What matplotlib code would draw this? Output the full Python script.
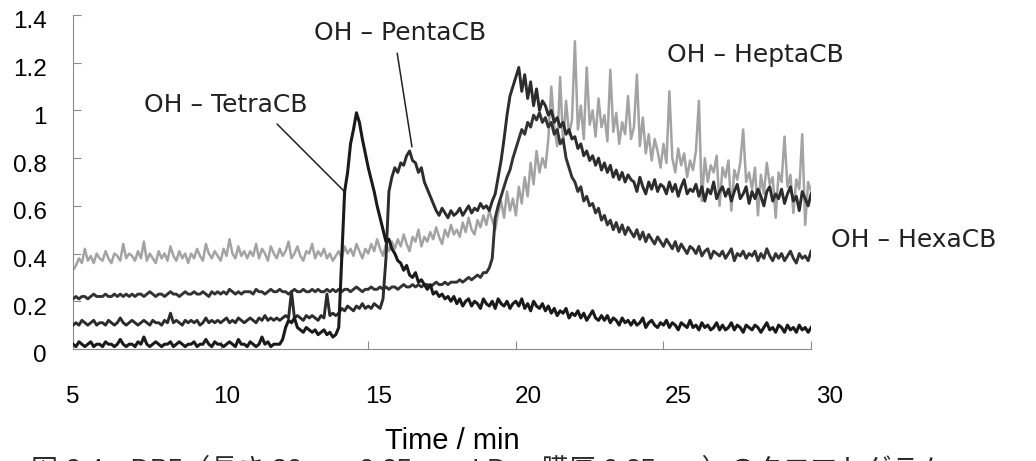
import numpy as np
import matplotlib
matplotlib.use("Agg")
import matplotlib.pyplot as plt
from matplotlib.transforms import ScaledTranslation

# =========================================================
# DATA (0.1 min steps)
# =========================================================

t_start, t_end, t_step = 5.0, 30.0, 0.1

tetra = [
    0.02, 0.01, 0.03, 0.02, 0.01, 0.02, 0.03, 0.01, 0.02, 0.02,   # 5
    0.01, 0.03, 0.02, 0.02, 0.01, 0.02, 0.04, 0.02, 0.01, 0.02,   # 6
    0.02, 0.01, 0.03, 0.02, 0.05, 0.02, 0.01, 0.02, 0.03, 0.02,   # 7
    0.01, 0.02, 0.02, 0.03, 0.01, 0.02, 0.03, 0.02, 0.01, 0.02,   # 8
    0.02, 0.03, 0.01, 0.02, 0.02, 0.04, 0.02, 0.01, 0.03, 0.02,   # 9
    0.02, 0.01, 0.02, 0.03, 0.02, 0.01, 0.04, 0.02, 0.02, 0.01,   # 10
    0.03, 0.02, 0.01, 0.02, 0.05, 0.02, 0.03, 0.01, 0.02, 0.02,   # 11
    0.02, 0.04, 0.09, 0.12, 0.11, 0.13, 0.09, 0.08, 0.07, 0.09,   # 12
    0.08, 0.07, 0.08, 0.06, 0.07, 0.08, 0.06, 0.07, 0.05, 0.06,   # 13
    0.09, 0.38, 0.66, 0.74, 0.86, 0.92, 0.99, 0.95, 0.88, 0.82,   # 14
    0.76, 0.71, 0.66, 0.60, 0.55, 0.50, 0.45, 0.46, 0.42, 0.40,   # 15
    0.37, 0.36, 0.33, 0.35, 0.31, 0.30, 0.32, 0.28, 0.29, 0.27,   # 16
    0.25, 0.27, 0.23, 0.24, 0.22, 0.23, 0.21, 0.22, 0.20, 0.22,   # 17
    0.19, 0.21, 0.18, 0.20, 0.21, 0.18, 0.20, 0.19, 0.17, 0.21,   # 18
    0.19, 0.18, 0.20, 0.17, 0.21, 0.19, 0.18, 0.20, 0.17, 0.19,   # 19
    0.20, 0.18, 0.21, 0.17, 0.19, 0.16, 0.20, 0.18, 0.17, 0.19,   # 20
    0.16, 0.18, 0.15, 0.17, 0.14, 0.16, 0.15, 0.17, 0.13, 0.15,   # 21
    0.14, 0.16, 0.13, 0.15, 0.12, 0.14, 0.16, 0.13, 0.12, 0.14,   # 22
    0.12, 0.14, 0.11, 0.13, 0.12, 0.10, 0.13, 0.11, 0.12, 0.10,   # 23
    0.12, 0.10, 0.11, 0.13, 0.09, 0.11, 0.12, 0.10, 0.09, 0.11,   # 24
    0.10, 0.12, 0.09, 0.11, 0.10, 0.08, 0.11, 0.10, 0.09, 0.12,   # 25
    0.09, 0.10, 0.08, 0.11, 0.09, 0.10, 0.08, 0.09, 0.11, 0.08,   # 26
    0.10, 0.08, 0.09, 0.11, 0.08, 0.10, 0.09, 0.07, 0.10, 0.09,   # 27
    0.08, 0.10, 0.09, 0.07, 0.09, 0.11, 0.08, 0.09, 0.07, 0.10,   # 28
    0.09, 0.07, 0.10, 0.08, 0.09, 0.07, 0.10, 0.08, 0.09, 0.07,   # 29
    0.09,
]

penta = [
    0.10, 0.11, 0.10, 0.12, 0.11, 0.10, 0.11, 0.12, 0.10, 0.11,   # 5
    0.11, 0.10, 0.12, 0.11, 0.10, 0.11, 0.13, 0.11, 0.10, 0.11,   # 6
    0.12, 0.11, 0.10, 0.11, 0.12, 0.11, 0.10, 0.12, 0.11, 0.11,   # 7
    0.10, 0.12, 0.11, 0.15, 0.11, 0.12, 0.11, 0.10, 0.12, 0.11,   # 8
    0.12, 0.11, 0.12, 0.10, 0.11, 0.13, 0.11, 0.12, 0.11, 0.12,   # 9
    0.11, 0.12, 0.13, 0.11, 0.12, 0.11, 0.13, 0.12, 0.11, 0.12,   # 10
    0.13, 0.12, 0.11, 0.13, 0.12, 0.14, 0.12, 0.13, 0.12, 0.13,   # 11
    0.12, 0.13, 0.14, 0.13, 0.24, 0.13, 0.14, 0.13, 0.12, 0.14,   # 12
    0.13, 0.14, 0.13, 0.12, 0.14, 0.13, 0.23, 0.14, 0.15, 0.14,   # 13
    0.15, 0.17, 0.16, 0.18, 0.17, 0.16, 0.18, 0.17, 0.19, 0.17,   # 14
    0.18, 0.17, 0.19, 0.18, 0.17, 0.21, 0.38, 0.66, 0.72, 0.76,   # 15
    0.74, 0.78, 0.77, 0.81, 0.83, 0.79, 0.78, 0.74, 0.76, 0.70,   # 16
    0.67, 0.64, 0.61, 0.58, 0.56, 0.59, 0.57, 0.55, 0.58, 0.56,   # 17
    0.57, 0.59, 0.56, 0.58, 0.60, 0.57, 0.59, 0.58, 0.61, 0.59,   # 18
    0.60, 0.58, 0.62, 0.65, 0.72, 0.79, 0.88, 0.98, 1.06, 1.10,   # 19
    1.14, 1.18, 1.08, 1.15, 1.05, 1.12, 1.02, 1.09, 1.00, 1.04,   # 20
    1.02, 0.98, 1.00, 0.95, 0.97, 0.93, 0.95, 0.90, 0.92, 0.88,   # 21
    0.89, 0.84, 0.86, 0.81, 0.83, 0.79, 0.81, 0.77, 0.80, 0.75,   # 22
    0.78, 0.74, 0.77, 0.72, 0.75, 0.71, 0.74, 0.70, 0.73, 0.71,   # 23
    0.70, 0.66, 0.72, 0.68, 0.65, 0.70, 0.67, 0.71, 0.66, 0.69,   # 24
    0.68, 0.65, 0.70, 0.66, 0.69, 0.64, 0.68, 0.71, 0.65, 0.67,   # 25
    0.66, 0.69, 0.64, 0.68, 0.62, 0.67, 0.65, 0.70, 0.63, 0.66,   # 26
    0.68, 0.64, 0.67, 0.62, 0.66, 0.69, 0.63, 0.65, 0.68, 0.61,   # 27
    0.66, 0.63, 0.67, 0.64, 0.60, 0.66, 0.68, 0.62, 0.65, 0.63,   # 28
    0.67, 0.61, 0.65, 0.68, 0.62, 0.64, 0.58, 0.66, 0.63, 0.60,   # 29
    0.65,
]

hexa = [
    0.21, 0.22, 0.21, 0.22, 0.22, 0.21, 0.22, 0.23, 0.22, 0.22,   # 5
    0.22, 0.23, 0.22, 0.22, 0.23, 0.22, 0.23, 0.22, 0.23, 0.22,   # 6
    0.23, 0.22, 0.23, 0.23, 0.22, 0.23, 0.24, 0.23, 0.22, 0.23,   # 7
    0.23, 0.22, 0.23, 0.24, 0.23, 0.23, 0.22, 0.23, 0.24, 0.23,   # 8
    0.23, 0.24, 0.23, 0.23, 0.24, 0.23, 0.22, 0.24, 0.23, 0.24,   # 9
    0.23, 0.24, 0.23, 0.25, 0.24, 0.23, 0.24, 0.23, 0.24, 0.24,   # 10
    0.24, 0.23, 0.25, 0.24, 0.24, 0.23, 0.24, 0.25, 0.24, 0.24,   # 11
    0.25, 0.24, 0.24, 0.23, 0.24, 0.25, 0.24, 0.24, 0.25, 0.24,   # 12
    0.24, 0.25, 0.24, 0.25, 0.24, 0.24, 0.25, 0.24, 0.25, 0.24,   # 13
    0.25, 0.24, 0.25, 0.25, 0.24, 0.25, 0.26, 0.25, 0.24, 0.25,   # 14
    0.25, 0.26, 0.25, 0.25, 0.26, 0.25, 0.26, 0.25, 0.26, 0.26,   # 15
    0.25, 0.26, 0.27, 0.26, 0.26, 0.27, 0.26, 0.27, 0.26, 0.27,   # 16
    0.27, 0.26, 0.27, 0.28, 0.27, 0.27, 0.28, 0.27, 0.28, 0.28,   # 17
    0.28, 0.29, 0.28, 0.29, 0.30, 0.29, 0.30, 0.31, 0.30, 0.32,   # 18
    0.32, 0.34, 0.38, 0.55, 0.60, 0.64, 0.68, 0.72, 0.75, 0.80,   # 19
    0.84, 0.88, 0.92, 0.90, 0.95, 0.93, 0.98, 0.96, 0.99, 0.95,   # 20
    0.97, 0.93, 0.95, 0.90, 0.92, 0.86, 0.88, 0.80, 0.76, 0.72,   # 21
    0.70, 0.66, 0.68, 0.62, 0.64, 0.60, 0.61, 0.57, 0.59, 0.54,   # 22
    0.56, 0.52, 0.54, 0.50, 0.53, 0.49, 0.52, 0.48, 0.51, 0.49,   # 23
    0.47, 0.50, 0.46, 0.49, 0.45, 0.48, 0.46, 0.44, 0.47, 0.45,   # 24
    0.43, 0.46, 0.44, 0.42, 0.45, 0.41, 0.44, 0.42, 0.40, 0.43,   # 25
    0.42, 0.40, 0.43, 0.39, 0.41, 0.42, 0.38, 0.41, 0.40, 0.39,   # 26
    0.41, 0.38, 0.40, 0.42, 0.37, 0.40, 0.39, 0.41, 0.38, 0.40,   # 27
    0.39, 0.41, 0.37, 0.40, 0.38, 0.42, 0.39, 0.37, 0.40, 0.38,   # 28
    0.40, 0.37, 0.39, 0.41, 0.38, 0.36, 0.40, 0.38, 0.39, 0.37,   # 29
    0.41,
]

hepta = [
    0.33, 0.35, 0.38, 0.36, 0.42, 0.37, 0.39, 0.36, 0.40, 0.38,   # 5
    0.37, 0.41, 0.38, 0.36, 0.40, 0.39, 0.37, 0.44, 0.38, 0.40,   # 6
    0.39, 0.37, 0.41, 0.38, 0.45, 0.37, 0.40, 0.38, 0.36, 0.41,   # 7
    0.38, 0.40, 0.37, 0.43, 0.39, 0.37, 0.41, 0.38, 0.40, 0.36,   # 8
    0.40, 0.38, 0.42, 0.39, 0.37, 0.44, 0.40, 0.38, 0.41, 0.39,   # 9
    0.37, 0.42, 0.39, 0.46, 0.40, 0.38, 0.43, 0.39, 0.41, 0.38,   # 10
    0.41, 0.39, 0.44, 0.38, 0.42, 0.40, 0.37, 0.43, 0.40, 0.38,   # 11
    0.42, 0.39, 0.41, 0.45, 0.38, 0.40, 0.43, 0.39, 0.37, 0.41,   # 12
    0.40, 0.44, 0.38, 0.41, 0.39, 0.42, 0.38, 0.40, 0.37, 0.39,   # 13
    0.41, 0.38, 0.43, 0.40, 0.42, 0.39, 0.44, 0.41, 0.38, 0.42,   # 14
    0.40, 0.44, 0.41, 0.46, 0.42, 0.39, 0.44, 0.41, 0.45, 0.42,   # 15
    0.46, 0.43, 0.48, 0.44, 0.41, 0.47, 0.45, 0.50, 0.43, 0.47,   # 16
    0.45, 0.49, 0.46, 0.51, 0.47, 0.44, 0.50, 0.47, 0.52, 0.48,   # 17
    0.50, 0.47, 0.53, 0.49, 0.55, 0.50, 0.48, 0.54, 0.51, 0.56,   # 18
    0.52, 0.58, 0.54, 0.50, 0.57, 0.62, 0.55, 0.66, 0.58, 0.63,   # 19
    0.56, 0.68, 0.61, 0.72, 0.64, 0.78, 0.69, 0.83, 0.74, 0.80,   # 20
    0.76, 0.88, 1.10, 0.93, 0.85, 1.14, 0.86, 1.04, 0.90, 0.96,   # 21
    1.29, 0.92, 1.02, 0.88, 1.18, 0.94, 1.00, 0.89, 1.05, 0.93,   # 22
    0.98, 0.87, 1.17, 0.91, 0.99, 0.86, 0.95, 0.90, 1.06, 0.88,   # 23
    0.93, 1.15, 0.85, 0.97, 0.82, 0.90, 0.79, 0.88, 0.83, 0.76,   # 24
    0.86, 0.78, 1.08, 0.80, 0.74, 0.84, 0.77, 0.82, 0.72, 0.79,   # 25
    0.75, 0.83, 1.04, 0.62, 0.80, 0.70, 0.77, 0.74, 0.81, 0.60,   # 26
    0.76, 0.72, 0.79, 0.58, 0.75, 0.71, 0.78, 0.92, 0.70, 0.74,   # 27
    0.67, 0.76, 0.56, 0.73, 0.65, 0.78, 0.69, 0.72, 0.55, 0.74,   # 28
    0.70, 0.89, 0.68, 0.73, 0.57, 0.71, 0.67, 0.90, 0.52, 0.70,   # 29
    0.66,
]

labels = ["OH – TetraCB", "OH – PentaCB", "OH – HexaCB", "OH – HeptaCB"]
x_ticks = [5, 10, 15, 20, 25, 30]
y_ticks = [0, 0.2, 0.4, 0.6, 0.8, 1, 1.2, 1.4]
x_label = "Time / min"
caption = "図 2.4　DB5（長さ 30 m，0.25 mm I.D.，膜厚 0.25 μm）のクロマトグラム"

time = np.round(np.arange(t_start, t_end + t_step / 2, t_step), 1)

# =========================================================
# PLOT
# =========================================================

fig = plt.figure(figsize=(10.36, 4.61), dpi=100)
ax = fig.add_axes([0.0705, 0.243, 0.7124, 0.7245])

ax.plot(time, hepta, color="#a3a3a3", lw=1.8, zorder=2)
ax.plot(time, hexa, color="#333333", lw=2.1, zorder=3)
ax.plot(time, penta, color="#2c2c2c", lw=2.1, zorder=4)
ax.plot(time, tetra, color="#1a1a1a", lw=2.2, zorder=5)

ax.set_xlim(5, 30)
ax.set_ylim(0, 1.4)
ax.set_xticks(x_ticks)
ax.set_yticks(y_ticks)
ax.set_yticklabels(["0", "0.2", "0.4", "0.6", "0.8", "1", "1.2", "1.4"])

for s in ["top", "right"]:
    ax.spines[s].set_visible(False)
for s in ["left", "bottom"]:
    ax.spines[s].set_color("#8c8c8c")
    ax.spines[s].set_linewidth(0.8)

ax.tick_params(axis="both", direction="in", length=6, width=0.8,
               color="#8c8c8c", labelsize=17.5)
ax.tick_params(axis="x", pad=27)
ax.tick_params(axis="y", pad=19)
for lab in ax.get_xticklabels() + ax.get_yticklabels():
    lab.set_family("Liberation Sans")

# scanned labels sit a little off their ticks
for lab in ax.get_yticklabels():
    lab.set_transform(lab.get_transform() +
                      ScaledTranslation(0, -0.05, fig.dpi_scale_trans))
x_shift_px = [0, 6, 10, 12, 15, 19]
for lab, dx in zip(ax.get_xticklabels(), x_shift_px):
    lab.set_transform(lab.get_transform() +
                      ScaledTranslation(dx / 100, 0, fig.dpi_scale_trans))

# peak labels with leader lines
ann_font = dict(fontsize=18, family="DejaVu Sans", color="#222222",
                ha="center", va="center")
ax.text(10.18, 1.023, labels[0], **ann_font)
ax.text(16.08, 1.324, labels[1], **ann_font)
ax.text(33.47, 0.457, labels[2], clip_on=False, **ann_font)
ax.text(28.12, 1.232, labels[3], **ann_font)

lead = dict(arrowstyle="-", color="#222222", lw=1.1, shrinkA=0, shrinkB=0)
ax.annotate("", xy=(14.21, 0.658), xytext=(11.91, 0.943), arrowprops=lead)
ax.annotate("", xy=(16.48, 0.847), xytext=(15.98, 1.24), arrowprops=lead)

fig.text(0.437, 0.026, x_label, fontsize=21, family="Liberation Sans",
         ha="center", va="baseline")
fig.text(0.03, 0.013, caption, fontsize=19.5,
         family=["Liberation Sans", "Noto Sans CJK JP"],
         ha="left", va="top", color="#2a2a2a")

fig.savefig("out.png", dpi=100)
